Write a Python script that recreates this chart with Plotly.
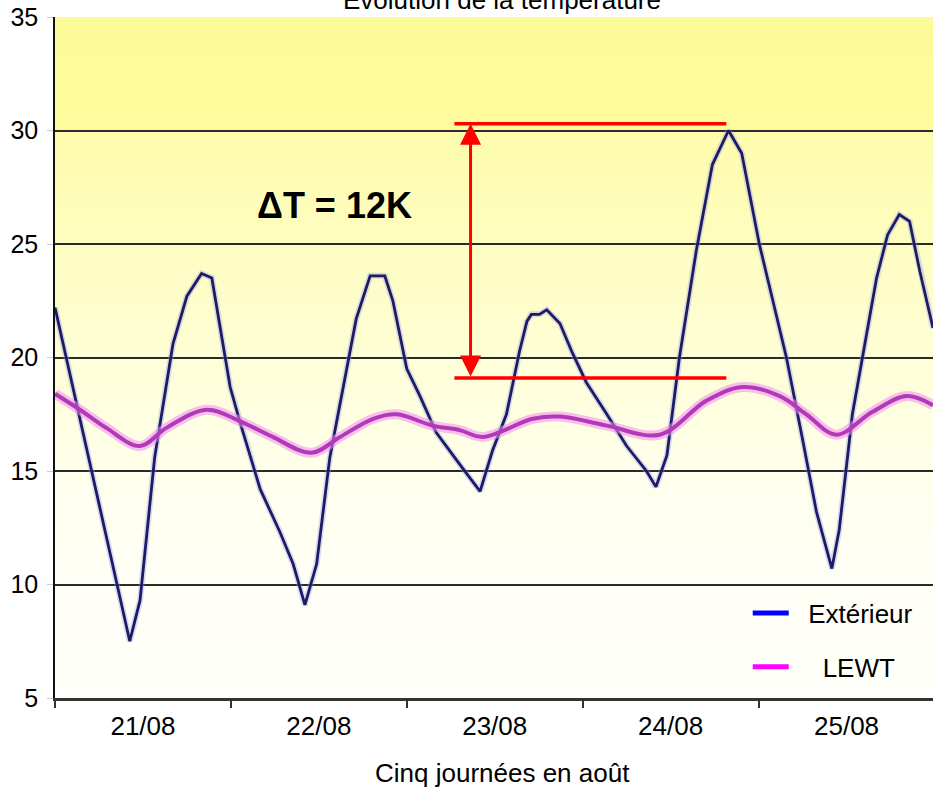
import plotly.graph_objects as go

# ---------------- data ----------------
days = ["21/08", "22/08", "23/08", "24/08", "25/08"]
day_centers = [12, 36, 60, 84, 108]          # hours since 21/08 00:00
day_bounds = [0, 24, 48, 72, 96, 120]

hours_ext = [0, 2.3, 4.8, 8.4, 10.2, 11.6, 13.6, 16.1, 18.0, 20.0, 21.4, 23.9, 25.2, 28.0, 30.7,
             32.5, 34.1, 35.7, 37.5, 40.2, 41.1, 43.0, 45.0, 46.1, 48.0, 49.8, 52.0, 55.2, 58.0, 59.7,
             61.6, 63.4, 64.4, 65.0, 66.1, 67.1, 68.9, 70.6, 72.5, 75.3, 78.0, 80.7, 82.0, 83.5, 85.2,
             87.5, 89.7, 91.9, 93.7, 96.1, 99.8, 102.0, 103.9, 106.0, 107.0, 108.8, 110.2, 112.1, 113.6,
             115.2, 116.6, 118.0, 119.8]
temp_ext = [22.2, 18.9, 15.4, 10.1, 7.5, 9.3, 15.6, 20.6, 22.7, 23.7, 23.5, 18.7, 17.2, 14.2, 12.3,
            10.9, 9.1, 10.9, 15.6, 20.3, 21.7, 23.6, 23.6, 22.5, 19.5, 18.3, 16.7, 15.3, 14.1, 15.9,
            17.5, 20.3, 21.6, 21.9, 21.9, 22.1, 21.5, 20.2, 18.9, 17.5, 16.1, 15.0, 14.3, 15.7, 20.0,
            24.7, 28.5, 30.0, 29.0, 25.0, 20.0, 16.4, 13.2, 10.7, 12.4, 17.5, 20.0, 23.5, 25.4,
            26.3, 26.0, 23.8, 21.3]

hours_lewt = [0, 3.4, 7.0, 11.6, 15.2, 20.7, 25.2, 29.7, 35.0, 38.9, 43.4, 46.6, 51.5, 55.2, 58.4,
              65.2, 68.9, 75.3, 82.5, 88.9, 93.8, 98.9, 102.5, 106.6, 111.5, 116.2, 119.8]
temp_lewt = [18.4, 17.7, 16.9, 16.1, 16.9, 17.7, 17.2, 16.5, 15.8, 16.5, 17.3, 17.5, 17.0, 16.8, 16.5,
             17.3, 17.4, 17.0, 16.6, 18.1, 18.7, 18.3, 17.5, 16.6, 17.6, 18.3, 17.9]

y_ticks = [5, 10, 15, 20, 25, 30, 35]

delta_hi = 30.3
delta_lo = 19.1
delta_x0, delta_x1, delta_xa = 54.5, 91.6, 56.7

FONT = "Liberation Sans, Arial, sans-serif"
NB = "\u00a0"

fig = go.Figure()

fig.add_trace(go.Scatter(x=hours_ext, y=temp_ext, mode="lines",
                         line=dict(color="rgba(150,150,230,0.35)", width=6),
                         showlegend=False, hoverinfo="skip"))
fig.add_trace(go.Scatter(x=hours_ext, y=temp_ext, mode="lines",
                         line=dict(color="#1c1c66", width=2.8),
                         showlegend=False, name="Extérieur"))
fig.add_trace(go.Scatter(x=hours_lewt, y=temp_lewt, mode="lines",
                         line=dict(color="rgba(240,140,240,0.55)", width=10, shape="spline"),
                         showlegend=False, hoverinfo="skip"))
fig.add_trace(go.Scatter(x=hours_lewt, y=temp_lewt, mode="lines",
                         line=dict(color="#b23ab8", width=4, shape="spline"),
                         showlegend=False, name="LEWT"))

# legend-only entries
fig.add_trace(go.Scatter(x=[None], y=[None], mode="lines", name=NB * 2 + "Extérieur",
                         line=dict(color="#0000ff", width=5), legendgroup="a"))
fig.add_trace(go.Scatter(x=[None], y=[None], mode="lines", name=NB * 4 + "LEWT",
                         line=dict(color="#ff00ff", width=5), legendgroup="b"))

# background gradient bands
stops = [(5, (255, 255, 251)), (10, (255, 255, 246)), (15, (255, 255, 236)), (20, (254, 254, 214)),
         (25, (254, 253, 192)), (29.9, (254, 252, 172)), (30.1, (253, 251, 156)), (35, (253, 251, 152))]


def col(v):
    for (a, ca), (b, cb) in zip(stops[:-1], stops[1:]):
        if a <= v <= b:
            t = (v - a) / (b - a)
            return "rgb(%d,%d,%d)" % tuple(round(ca[i] + (cb[i] - ca[i]) * t) for i in range(3))
    return "rgb(255,255,255)"


shapes = []
step = 0.25
n = int((35 - 5) / step)
for i in range(n):
    y0 = 5 + i * step
    shapes.append(dict(type="rect", xref="paper", yref="y", x0=0, x1=1, y0=y0, y1=y0 + step + 0.02,
                       fillcolor=col(y0 + step / 2), line=dict(width=0), layer="below"))

# red measurement lines
for yv in (delta_hi, delta_lo):
    shapes.append(dict(type="line", xref="x", yref="y", x0=delta_x0, x1=delta_x1, y0=yv, y1=yv,
                       line=dict(color="#ff0000", width=3.5), layer="above"))

annotations = [
    dict(x=delta_xa, y=delta_hi, ax=delta_xa, ay=delta_lo, xref="x", yref="y", axref="x", ayref="y",
         text="", showarrow=True, arrowhead=2, arrowside="end+start", arrowsize=1.4, arrowwidth=3,
         arrowcolor="#ff0000", standoff=0, startstandoff=0),
    dict(x=38.2, y=26.7, xref="x", yref="y", text="<b>ΔT = 12K</b>", showarrow=False,
         font=dict(family=FONT, size=36, color="black")),
    dict(x=0.509, y=1, xref="paper", yref="paper", yanchor="bottom", yshift=0,
         text="Évolution de la température", showarrow=False,
         font=dict(family=FONT, size=26, color="black")),
    dict(x=0.510, y=-0.110, xref="paper", yref="paper", yanchor="middle",
         text="Cinq journées en août", showarrow=False,
         font=dict(family=FONT, size=26, color="black")),
]

fig.update_layout(
    width=933, height=788,
    margin=dict(l=55, r=0, t=17, b=90),
    paper_bgcolor="white", plot_bgcolor="white",
    font=dict(family=FONT, size=26, color="black"),
    shapes=shapes, annotations=annotations,
    showlegend=True,
    legend=dict(x=0.789, y=0.011, xanchor="left", yanchor="bottom", bgcolor="rgba(0,0,0,0)",
                font=dict(family=FONT, size=26, color="black"), tracegroupgap=17,
                itemwidth=36),
    xaxis=dict(range=[0, 119.8], tickvals=day_centers, ticktext=days, ticks="",
               showgrid=False, zeroline=False, showline=True, linecolor="#333333", linewidth=3,
               tickfont=dict(family=FONT, size=26, color="black"), ticklabelstandoff=3,
               minor=dict(tickvals=day_bounds, ticks="outside", ticklen=7, tickcolor="#333333",
                          tickwidth=1.5, showgrid=False)),
    yaxis=dict(range=[5, 35], tickvals=y_ticks, ticks="outside", ticklen=6, tickcolor="#cccccc",
               showgrid=True, gridcolor="#2a2a2a", gridwidth=1.5, zeroline=False,
               showline=True, linecolor="#111111", linewidth=1.5,
               tickfont=dict(family=FONT, size=25, color="black"), ticklabelstandoff=4),
)

fig.write_html("out.html", config={"displayModeBar": False},
               post_script="document.body.style.margin='0';")
